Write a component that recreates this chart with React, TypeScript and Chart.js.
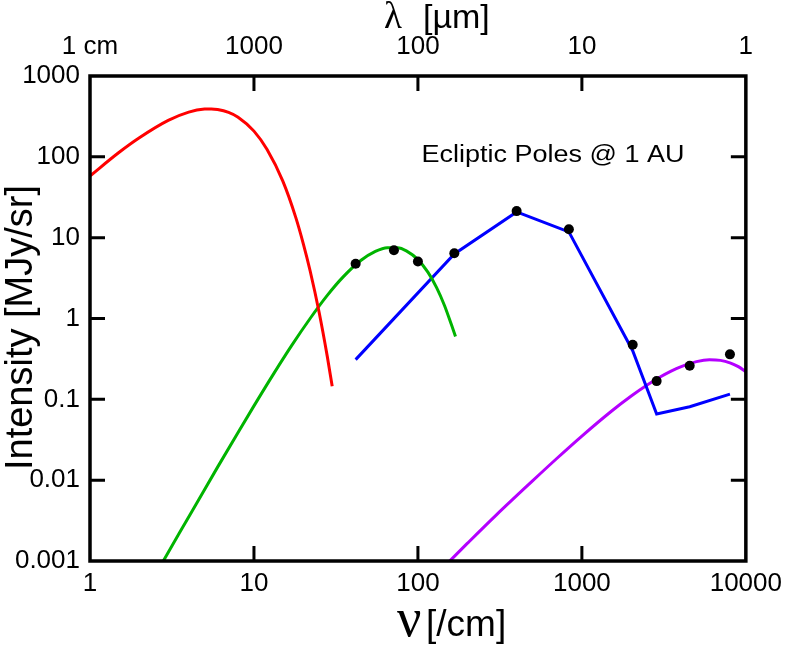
import React, { useEffect, useRef } from 'react';
import { Chart, registerables } from 'chart.js';

Chart.register(...registerables);

// ---- data ----
// CMB (red)
const cmbNu = [1, 1.5, 2, 3, 4, 5, 5.5, 6, 7, 8, 10, 12, 15, 18, 20, 22, 25, 28, 30];
const cmbI = [58, 113, 172, 282, 357, 390, 392, 385, 354, 309, 208, 124, 50, 17.7, 8.4, 3.9, 1.18, 0.34, 0.145];

// Galactic dust (green)
const dustNu = [2.7, 3.5, 4.5, 6, 8, 10, 13, 17, 22, 28, 35, 45, 55, 65, 75, 85, 100, 115, 130, 145, 160, 169.5];
const dustI = [0.00088, 0.0022, 0.0053, 0.0145, 0.039, 0.083, 0.198, 0.465, 1.0, 1.93, 3.27, 5.25, 6.77, 7.52, 7.5, 6.87, 5.35, 3.74, 2.41, 1.46, 0.84, 0.6];

// Zodiacal model (blue)
const zodiNu = [41.7, 166.7, 400, 833, 2041, 2857, 4545, 8000];
const zodiI = [0.31, 6.3, 20.8, 11.8, 0.4, 0.066, 0.081, 0.116];

// Starlight (purple)
const starNu = [150, 200, 300, 500, 700, 1000, 1500, 2000, 2500, 3000, 3500, 4000, 5000, 6000, 7000, 8000, 9000, 10000];
const starI = [0.00092, 0.00165, 0.0037, 0.0098, 0.0184, 0.0351, 0.0702, 0.1098, 0.1503, 0.1889, 0.2234, 0.2526, 0.2927, 0.3084, 0.3034, 0.2832, 0.2537, 0.2196];

// DIRBE measurements (black dots)
const dirbeNu = [41.7, 71.4, 100, 166.7, 400, 833, 2041, 2857, 4545, 8000];
const dirbeI = [4.75, 7.0, 5.08, 6.43, 21.3, 12.7, 0.473, 0.168, 0.26, 0.36];

// ticks
const xTickValues = [1, 10, 100, 1000, 10000];
const xTickLabels = ['1', '10', '100', '1000', '10000'];
const topTickLabels = ['1 cm', '1000', '100', '10', '1'];
const yTickValues = [0.001, 0.01, 0.1, 1, 10, 100, 1000];
const yTickLabels = ['0.001', '0.01', '0.1', '1', '10', '100', '1000'];
const xInnerTicks = [10, 100, 1000];
const yInnerTicks = [0.01, 0.1, 1, 10, 100];

const annotation = 'Ecliptic Poles @ 1 AU';

const pairs = (xs: number[], ys: number[]) => xs.map((x, i) => ({ x, y: ys[i] }));

const SANS = '"Liberation Sans", Arial, Helvetica, sans-serif';
const SERIF = '"Liberation Serif", "Times New Roman", serif';

const framePlugin = {
  id: 'frameAndTitles',
  afterDatasetsDraw(chart: any) {
    const { ctx, chartArea } = chart;
    const { left, right, top, bottom } = chartArea;
    const xs = chart.scales.x;
    const ys = chart.scales.y;
    ctx.save();
    ctx.strokeStyle = '#000';
    ctx.lineWidth = 3.5;
    ctx.lineCap = 'butt';
    ctx.strokeRect(left, top, right - left, bottom - top);
    const tl = 15;
    ctx.lineWidth = 3;
    ctx.beginPath();
    xInnerTicks.forEach((v) => {
      const px = xs.getPixelForValue(v);
      ctx.moveTo(px, bottom);
      ctx.lineTo(px, bottom - tl);
      ctx.moveTo(px, top);
      ctx.lineTo(px, top + tl);
    });
    yInnerTicks.forEach((v) => {
      const py = ys.getPixelForValue(v);
      ctx.moveTo(left, py);
      ctx.lineTo(left + tl, py);
      ctx.moveTo(right, py);
      ctx.lineTo(right - tl, py);
    });
    ctx.stroke();
    ctx.restore();
  },
  afterDraw(chart: any) {
    const { ctx } = chart;
    ctx.save();
    ctx.fillStyle = '#000';
    ctx.textBaseline = 'alphabetic';

    // y title
    ctx.save();
    ctx.translate(32, 327.5);
    ctx.rotate(-Math.PI / 2);
    ctx.font = `38px ${SANS}`;
    ctx.textAlign = 'center';
    ctx.fillText('Intensity [MJy/sr]', 0, 0);
    ctx.restore();

    // x title
    ctx.textAlign = 'left';
    ctx.font = `54px ${SERIF}`;
    ctx.fillText('ν', 397, 636);
    ctx.font = `37px ${SANS}`;
    ctx.fillText('[/cm]', 426, 636);

    // top title
    ctx.font = `37px ${SERIF}`;
    ctx.fillText('λ', 384, 28);
    ctx.font = `34px ${SANS}`;
    ctx.fillText('[µm]', 423, 28);

    // annotation
    ctx.font = `23px ${SANS}`;
    const w = ctx.measureText(annotation).width;
    ctx.save();
    ctx.translate(421.5, 161.5);
    ctx.scale(263 / w, 1);
    ctx.fillText(annotation, 0, 0);
    ctx.restore();

    ctx.restore();
  },
};

export default function App() {
  const ref = useRef<HTMLCanvasElement | null>(null);

  useEffect(() => {
    if (!ref.current) return;
    const tickFont = { family: SANS, size: 26 };
    const chart = new Chart(ref.current, {
      type: 'scatter',
      data: {
        datasets: [
          {
            label: 'DIRBE',
            data: pairs(dirbeNu, dirbeI),
            showLine: false,
            pointRadius: 5,
            pointBackgroundColor: '#000',
            pointBorderWidth: 0,
            pointBorderColor: '#000',
          },
          {
            label: 'CMB',
            data: pairs(cmbNu, cmbI),
            showLine: true,
            borderColor: '#ff0000',
            borderWidth: 3,
            pointRadius: 0,
            cubicInterpolationMode: 'monotone',
          },
          {
            label: 'Dust',
            data: pairs(dustNu, dustI),
            showLine: true,
            borderColor: '#00b400',
            borderWidth: 3,
            pointRadius: 0,
            cubicInterpolationMode: 'monotone',
          },
          {
            label: 'Zodiacal',
            data: pairs(zodiNu, zodiI),
            showLine: true,
            borderColor: '#0000ff',
            borderWidth: 3,
            pointRadius: 0,
            tension: 0,
          },
          {
            label: 'Stars',
            data: pairs(starNu, starI),
            showLine: true,
            borderColor: '#b400ff',
            borderWidth: 3,
            pointRadius: 0,
            cubicInterpolationMode: 'monotone',
          },
        ],
      },
      options: {
        responsive: false,
        animation: false,
        devicePixelRatio: 1,
        layout: { padding: { left: 0, right: 40.5, top: 0, bottom: 0 } },
        plugins: { legend: { display: false }, tooltip: { enabled: false } },
        scales: {
          x: {
            type: 'logarithmic',
            position: 'bottom',
            min: 1,
            max: 10000,
            grid: { display: false, drawTicks: false },
            border: { display: false },
            afterBuildTicks: (s: any) => {
              s.ticks = xTickValues.map((v) => ({ value: v }));
            },
            ticks: {
              autoSkip: false,
              maxRotation: 0,
              padding: 7,
              color: '#000',
              font: tickFont,
              callback: (_v: any, i: number) => xTickLabels[i],
            },
            afterFit: (s: any) => {
              s.height = 86;
            },
          },
          x2: {
            type: 'logarithmic',
            position: 'top',
            min: 1,
            max: 10000,
            grid: { display: false, drawTicks: false },
            border: { display: false },
            afterBuildTicks: (s: any) => {
              s.ticks = xTickValues.map((v) => ({ value: v }));
            },
            ticks: {
              autoSkip: false,
              maxRotation: 0,
              padding: 14,
              color: '#000',
              font: tickFont,
              callback: (_v: any, i: number) => topTickLabels[i],
            },
            afterFit: (s: any) => {
              s.height = 76;
            },
          },
          y: {
            type: 'logarithmic',
            position: 'left',
            min: 0.001,
            max: 1000,
            grid: { display: false, drawTicks: false },
            border: { display: false },
            afterBuildTicks: (s: any) => {
              s.ticks = yTickValues.map((v) => ({ value: v }));
            },
            ticks: {
              autoSkip: false,
              padding: 10,
              color: '#000',
              font: tickFont,
              callback: (_v: any, i: number) => yTickLabels[i],
            },
            afterFit: (s: any) => {
              s.width = 90;
            },
          },
        },
      } as any,
      plugins: [framePlugin],
    });
    return () => chart.destroy();
  }, []);

  return (
    <div style={{ position: 'fixed', left: 0, top: 0, width: 789, height: 647, background: '#fff' }}>
      <canvas ref={ref} width={789} height={647} style={{ width: 789, height: 647, display: 'block' }} />
    </div>
  );
}
